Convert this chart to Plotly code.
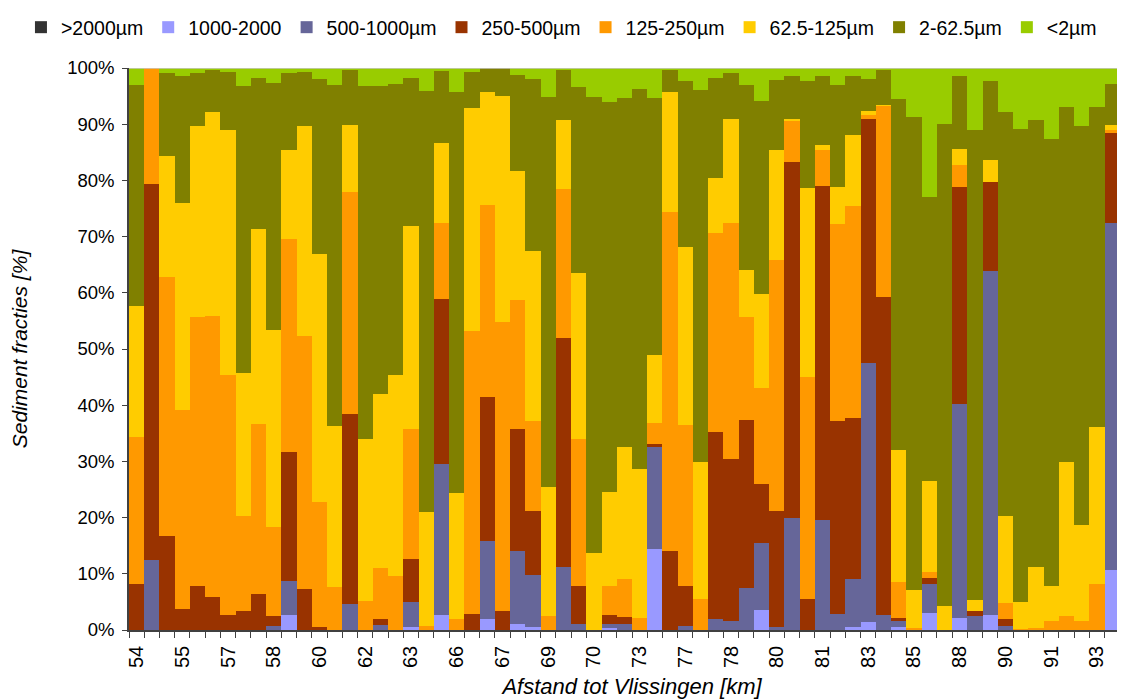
import plotly.graph_objects as go

# ---- data (% per size fraction, per sample) ----
km_labels = ["54", "55", "57", "58", "60", "62", "63", "66", "67", "69", "70",
             "73", "77", "78", "80", "81", "83", "85", "88", "90", "91", "93"]
label_every = 3

y_tick_values = [0, 10, 20, 30, 40, 50, 60, 70, 80, 90, 100]
y_tick_labels = ["0%", "10%", "20%", "30%", "40%", "50%", "60%", "70%", "80%", "90%", "100%"]

series_names = [">2000µm", "1000-2000", "500-1000µm", "250-500µm",
                "125-250µm", "62.5-125µm", "2-62.5µm", "<2µm"]
series_colors = ["#333333", "#9999FF", "#666699", "#993300",
                 "#FF9900", "#FFCC00", "#808000", "#99CC00"]

frac_gt2000 = [0, 0, 0, 0, 0, 0, 0, 0, 0, 0, 0, 0, 0, 0, 0, 0, 0, 0, 0, 0, 0, 0,
               0, 0, 0, 0, 0, 0, 0, 0, 0, 0, 0, 0, 0, 0, 0, 0, 0, 0, 0, 0, 0, 0,
               0, 0, 0, 0, 0, 0, 0, 0, 0, 0, 0, 0, 0, 0, 0, 0, 0, 0, 0, 0, 0, 0]
frac_1000_2000 = [0, 0, 0, 0, 0, 0, 0, 0, 0, 0, 2.7, 0, 0, 0, 0, 0, 0, 0, 0.6, 0, 2.7, 0,
                  0, 1.9, 0, 1.1, 0.6, 0, 0, 0, 0, 0.3, 0, 0, 14.5, 0, 0, 0, 0, 0, 0, 3.6, 0, 0,
                  0, 0, 0, 0.5, 1.4, 0, 0.6, 0, 3.1, 0, 2.2, 0, 2.7, 0, 0, 0, 0, 0, 0, 0, 10.6, 0]
frac_500_1000 = [0, 12.5, 0, 0, 0, 0, 0, 0, 0, 0.7, 6.0, 0, 0, 0, 4.6, 0, 0.9, 0, 4.4, 0, 26.8, 0,
                 0, 14.0, 0, 12.9, 9.2, 0, 11.2, 1.1, 0, 0.8, 1.0, 0, 18.1, 0, 0.7, 0, 2.0, 1.6, 7.5, 11.8, 0.6, 19.9,
                 0, 19.6, 2.9, 8.5, 46.1, 2.7, 1.0, 0, 5.0, 0, 38.0, 2.5, 61.2, 0.7, 0, 0, 0, 0, 0, 0, 61.9, 19.1]
frac_250_500 = [8.2, 66.9, 16.7, 3.8, 7.8, 5.9, 2.7, 3.4, 6.4, 1.8, 23.0, 7.3, 0.6, 0, 33.8, 0, 1.1, 0, 7.6, 0, 29.4, 0,
                2.9, 25.5, 3.4, 21.8, 11.4, 0, 40.7, 6.7, 0, 1.6, 1.4, 0, 0.5, 14.0, 7.1, 0, 33.2, 28.8, 29.8, 10.5, 20.6, 63.4,
                5.6, 59.4, 34.3, 28.7, 43.5, 56.6, 0.6, 0, 1.1, 0, 38.7, 0.9, 15.8, 1.2, 0, 0, 0, 0, 0, 0, 16.1, 44.4]
frac_125_250 = [26.2, 20.6, 46.1, 35.3, 47.9, 50.0, 42.7, 16.8, 30.2, 15.9, 37.9, 45.0, 22.2, 7.6, 39.5, 5.2, 9.0, 9.6, 23.2, 0.7, 13.5, 2.0,
                50.3, 34.2, 51.4, 23.0, 16.0, 2.5, 26.5, 26.1, 0, 5.1, 6.6, 2.1, 3.8, 60.4, 28.7, 5.6, 35.4, 42.1, 18.4, 17.2, 44.6, 7.2,
                39.4, 6.4, 35.0, 37.8, 0.6, 34.0, 6.3, 0.3, 1.2, 0, 3.9, 0, 0, 2.9, 0.2, 0.4, 1.6, 2.5, 1.6, 8.2, 0.3, 23.9]
frac_62_125 = [23.2, 0, 21.5, 36.9, 33.9, 36.3, 43.6, 25.6, 34.7, 34.9, 15.8, 37.4, 44.1, 28.7, 12.0, 28.8, 31.0, 35.8, 36.1, 20.3, 14.3, 22.4,
               39.7, 20.1, 40.3, 22.9, 30.3, 23.0, 12.3, 29.6, 13.7, 16.8, 23.5, 26.5, 12.1, 21.4, 31.6, 24.3, 9.8, 18.5, 8.4, 16.7, 19.6, 0.5,
               33.7, 0.9, 6.7, 12.5, 0.7, 0.2, 23.5, 6.9, 16.2, 4.3, 2.8, 2.0, 3.9, 15.4, 4.8, 10.8, 6.2, 27.4, 17.0, 27.9, 1.0, 5.3]
frac_2_62 = [39.4, 0, 14.9, 22.6, 9.6, 7.6, 10.3, 51.0, 26.9, 44.1, 13.8, 9.6, 31.1, 60.7, 9.7, 62.8, 54.8, 51.8, 26.3, 74.9, 12.8, 71.3,
             6.4, 4.3, 4.9, 17.1, 30.5, 69.4, 9.1, 33.2, 81.2, 69.3, 62.1, 67.7, 45.7, 4.0, 29.6, 66.2, 17.8, 8.2, 32.8, 34.4, 12.4, 7.5,
             19.0, 12.2, 18.0, 10.5, 5.7, 6.3, 62.4, 84.1, 50.5, 85.7, 12.9, 83.6, 14.1, 72.0, 84.2, 79.6, 79.5, 63.2, 71.1, 57.0, 7.3, 6.3]
frac_lt2 = [3.0, 0, 0.8, 1.4, 0.8, 0.2, 0.7, 3.2, 1.8, 2.6, 0.8, 0.7, 2.0, 3.0, 0.4, 3.2, 3.2, 2.8, 1.8, 4.1, 0.5, 4.3,
            0.7, 0, 0, 1.2, 2.0, 5.1, 0.2, 3.3, 5.1, 6.1, 5.4, 3.7, 5.3, 0.2, 2.3, 3.9, 1.8, 0.8, 3.1, 5.8, 2.2, 1.5,
            2.3, 1.5, 3.1, 1.5, 2.0, 0.2, 5.6, 8.7, 22.9, 10.0, 1.5, 11.0, 2.3, 7.8, 10.8, 9.2, 12.7, 6.9, 10.3, 6.9, 2.8, 1.0]

series_values = [frac_gt2000, frac_1000_2000, frac_500_1000, frac_250_500,
                 frac_125_250, frac_62_125, frac_2_62, frac_lt2]

n_bars = len(frac_lt2)
bar_pos = list(range(n_bars))

fig = go.Figure()
for name, color, vals in zip(series_names, series_colors, series_values):
    fig.add_trace(go.Bar(
        x=bar_pos, y=vals, name=name,
        marker=dict(color=color, line=dict(width=0)),
    ))

tick_pos = [i * label_every for i in range(len(km_labels))]
boundaries = [i - 0.5 for i in range(n_bars + 1)]

fig.update_layout(
    width=1127, height=691,
    barmode="stack", bargap=0,
    margin=dict(l=121, r=0, t=60, b=69),
    plot_bgcolor="white", paper_bgcolor="white",
    font=dict(family="Liberation Sans, Arial, sans-serif", color="black"),
    legend=dict(
        orientation="h", traceorder="normal",
        xref="paper", yref="paper",
        x=-0.1074, xanchor="left", y=1.1068, yanchor="top",
        font=dict(size=19.5), bgcolor="rgba(0,0,0,0)",
    ),
    xaxis=dict(
        range=[-0.5, n_bars - 0.5],
        tickmode="array", tickvals=tick_pos, ticktext=km_labels,
        tickangle=-90, tickfont=dict(size=20),
        ticks="outside", ticklen=6, tickcolor="rgba(0,0,0,0)",
        minor=dict(tickmode="array", tickvals=boundaries, ticks="outside",
                   ticklen=6, tickcolor="#404040", tickwidth=1, showgrid=False),
        showline=True, linecolor="#404040", linewidth=1.5,
        showgrid=False, zeroline=False,
        title=dict(text="<i>Afstand tot Vlissingen [km]</i>", font=dict(size=22), standoff=12),
    ),
    yaxis=dict(
        range=[0, 100], tickmode="array", tickvals=y_tick_values, ticktext=y_tick_labels,
        tickfont=dict(size=18.5), ticklabelstandoff=4,
        ticks="outside", ticklen=5, tickcolor="#404040",
        showline=True, linecolor="#404040", linewidth=1.5,
        showgrid=False, zeroline=False,
        title=dict(text="<i>Sediment fracties [%]</i>", font=dict(size=21), standoff=36),
    ),
    shapes=[dict(type="line", xref="paper", yref="y", x0=0, x1=1, y0=100, y1=100,
                 line=dict(color="#C8C8C8", width=1.5))],
)

fig.write_html("out.html")
